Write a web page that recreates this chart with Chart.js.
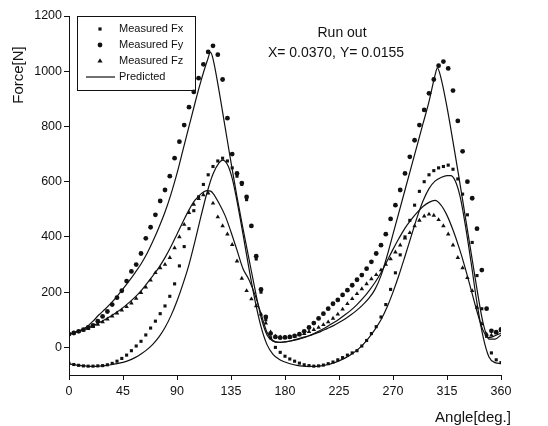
<!DOCTYPE html>
<html><head><meta charset="utf-8">
<script src="https://cdn.jsdelivr.net/npm/chart.js@4.4.1/dist/chart.umd.min.js"></script>
<style>html,body{margin:0;padding:0;background:#fff;}#wrap{width:548px;height:426px;position:relative;}</style>
</head><body><div id="wrap"><canvas id="c" width="548" height="426"></canvas></div>
<script>
// ---- data ----
const measuredAngles = [0,4,8,12,16,20,24,28,32,36,40,44,48,52,56,60,64,68,72,76,80,84,88,92,96,100,104,108,112,116,120,124,128,132,136,140,144,148,152,156,160,164,168,172,176,180,184,188,192,196,200,204,208,212,216,220,224,228,232,236,240,244,248,252,256,260,264,268,272,276,280,284,288,292,296,300,304,308,312,316,320,324,328,332,336,340,344,348,352,356,360];
const measuredFx = [-58,-62,-65,-67,-68,-68,-67,-66,-63,-58,-50,-40,-28,-12,5,22,45,70,95,122,150,185,230,295,365,430,495,545,590,625,655,675,685,675,650,620,590,535,440,320,200,100,35,0,-18,-32,-42,-50,-57,-63,-66,-68,-67,-64,-59,-53,-45,-37,-28,-20,-12,5,25,50,75,110,155,210,270,335,400,460,515,565,600,625,640,650,655,660,645,610,555,480,380,260,140,40,-20,-45,-55];
const measuredFy = [48,52,58,64,72,80,95,112,130,155,180,205,240,275,300,340,395,435,480,530,570,620,685,745,805,870,925,975,1025,1070,1092,1060,970,830,700,630,595,545,440,330,210,110,50,38,35,36,38,42,48,58,72,88,105,122,140,158,172,190,207,225,245,262,285,310,340,370,410,465,515,570,630,690,750,805,860,920,970,1020,1035,1010,930,820,710,600,540,430,280,140,60,55,65];
const measuredFz = [48,52,57,62,68,75,83,92,102,113,124,135,147,160,177,198,218,243,270,288,300,325,360,400,445,488,518,538,552,558,522,472,440,410,372,312,250,205,175,150,120,88,55,40,37,36,37,40,45,50,57,64,72,82,92,105,120,138,158,176,194,212,230,248,263,280,300,320,345,370,395,415,440,460,475,482,478,462,440,410,370,325,288,252,205,145,85,48,44,52,60];

const predFyAngles = [0,5,10,15,20,25,30,35,40,45,50,55,60,65,70,75,80,85,90,95,100,105,110,115,118,120,125,130,135,140,145,150,155,160,165,170,175,180,185,190,195,200,205,210,215,220,225,230,235,240,245,250,255,260,265,270,275,280,285,290,295,300,305,307,310,315,320,325,330,335,340,345,350,355,360];
const predFyValues = [48,55,63,75,95,118,138,160,185,212,240,270,302,340,385,435,490,555,630,715,800,885,965,1035,1068,1045,930,800,670,545,430,320,210,110,45,22,18,20,24,30,36,42,50,58,68,78,90,103,118,135,155,178,210,260,330,410,490,570,650,730,810,890,985,1012,975,870,745,615,480,345,210,90,30,30,45];

const predFxAngles = [0,5,10,15,20,25,30,35,40,45,50,55,60,65,70,75,80,85,90,95,100,105,110,115,120,125,128,132,136,140,145,150,155,160,165,170,175,180,185,190,195,200,205,210,215,220,225,230,235,240,245,250,255,260,265,270,275,280,285,290,295,300,305,310,315,318,322,326,330,335,340,345,350,355,360];
const predFxValues = [-60,-63,-66,-68,-69,-68,-66,-63,-59,-54,-47,-37,-24,-8,12,38,72,115,168,230,300,385,475,560,628,668,678,662,612,530,410,285,170,75,10,-25,-43,-53,-60,-65,-68,-69,-69,-67,-63,-57,-49,-39,-26,-10,10,35,65,100,145,200,262,330,400,470,530,575,602,615,622,622,602,545,450,310,160,40,-35,-55,-58];

const predFzAngles = [0,5,10,15,20,25,30,35,40,45,50,55,60,65,70,75,80,85,90,95,100,105,110,115,118,120,125,130,135,140,145,150,155,160,165,170,175,180,185,190,195,200,205,210,215,220,225,230,235,240,245,250,255,260,265,270,275,280,285,290,295,300,305,310,315,320,325,330,335,340,345,350,355,360];
const predFzValues = [48,54,61,69,78,89,101,114,128,144,162,182,205,232,260,290,325,365,410,455,498,533,556,568,566,558,522,478,418,352,285,245,190,122,55,25,18,20,23,28,34,42,52,63,75,88,102,118,135,155,178,205,235,270,312,355,395,432,462,488,510,525,532,515,478,425,362,290,210,130,62,35,42,52];

const xTicks = [0,45,90,135,180,225,270,315,360];
const yTicks = [0,200,400,600,800,1000,1200];
const legendLabels = ['Measured Fx','Measured Fy','Measured Fz','Predicted'];

// ---- build ----
const pts = (xs, ys) => xs.map((x, i) => ({x: x, y: ys[i]}));
const INK = '#111';
const FONT = '"Liberation Sans", Arial, sans-serif';

function measured(label, vals, style, r) {
  return {label, data: pts(measuredAngles, vals), showLine: false,
    pointStyle: style, pointRadius: r, pointHoverRadius: r,
    pointBackgroundColor: INK, pointBorderColor: INK, pointBorderWidth: 0};
}
function predicted(xs, ys) {
  return {label: 'Predicted', data: pts(xs, ys), showLine: true, pointRadius: 0,
    borderColor: INK, borderWidth: 1.2, cubicInterpolationMode: 'monotone', fill: false};
}

const overlay = {
  id: 'overlay',
  afterDraw(chart) {
    const ctx = chart.ctx;
    ctx.save();
    ctx.fillStyle = INK; ctx.strokeStyle = INK;
    ctx.lineWidth = 1;
    ctx.strokeRect(77.5, 16.5, 118, 74);
    ctx.font = '11px ' + FONT;
    ctx.textBaseline = 'middle'; ctx.textAlign = 'left';
    const ys = [29, 45, 61, 77];
    legendLabels.forEach((t, i) => ctx.fillText(t, 119, ys[i]));
    const sx = 100;
    ctx.fillRect(sx - 1.6, ys[0] - 1.6, 3.2, 3.2);
    ctx.beginPath(); ctx.arc(sx, ys[1], 2.4, 0, Math.PI * 2); ctx.fill();
    ctx.beginPath(); ctx.moveTo(sx, ys[2] - 2.8); ctx.lineTo(sx + 2.6, ys[2] + 1.6); ctx.lineTo(sx - 2.6, ys[2] + 1.6); ctx.closePath(); ctx.fill();
    ctx.lineWidth = 1.2;
    ctx.beginPath(); ctx.moveTo(86, ys[3]); ctx.lineTo(115, ys[3]); ctx.stroke();
    ctx.textAlign = 'center';
    ctx.font = '14px ' + FONT;
    ctx.fillText('Run out', 342, 33);
    ctx.fillText('X= 0.0370, Y= 0.0155', 336, 53);
    ctx.font = '15px ' + FONT;
    ctx.fillText('Angle[deg.]', 473, 418);
    ctx.translate(19, 75); ctx.rotate(-Math.PI / 2);
    ctx.fillText('Force[N]', 0, 0);
    ctx.restore();
  }
};

new Chart(document.getElementById('c'), {
  type: 'scatter',
  data: {datasets: [
    measured('Measured Fx', measuredFx, 'rect', 2.2),
    measured('Measured Fy', measuredFy, 'circle', 2.4),
    measured('Measured Fz', measuredFz, 'triangle', 2.6),
    predicted(predFyAngles, predFyValues),
    predicted(predFxAngles, predFxValues),
    predicted(predFzAngles, predFzValues)
  ]},
  options: {
    responsive: false, animation: false, devicePixelRatio: 1,
    layout: {padding: {top: 16, right: 47, left: 0, bottom: 0}},
    plugins: {legend: {display: false}, tooltip: {enabled: false}, title: {display: false}},
    scales: {
      x: {type: 'linear', min: 0, max: 360,
        afterBuildTicks: s => { s.ticks = xTicks.map(v => ({value: v})); },
        afterFit: s => { s.height = 51; },
        ticks: {color: INK, font: {family: FONT, size: 12.5}, padding: 4, maxRotation: 0, autoSkip: false,
          callback: v => String(v)},
        grid: {drawOnChartArea: false, drawTicks: true, tickLength: 5, color: INK},
        border: {color: INK, width: 1}},
      y: {type: 'linear', min: -100, max: 1200,
        afterBuildTicks: s => { s.ticks = yTicks.map(v => ({value: v})); },
        afterFit: s => { s.width = 69; },
        ticks: {color: INK, font: {family: FONT, size: 12.5}, padding: 2, autoSkip: false,
          callback: v => String(v)},
        grid: {drawOnChartArea: false, drawTicks: true, tickLength: 5, color: INK},
        border: {color: INK, width: 1}}
    }
  },
  plugins: [overlay]
});
</script></body></html>
